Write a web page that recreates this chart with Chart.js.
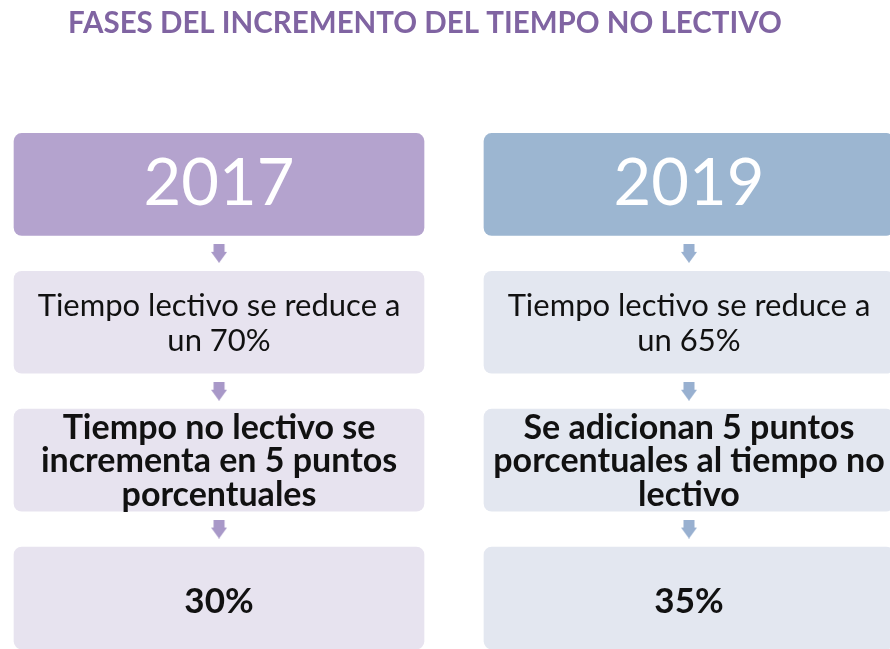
<!DOCTYPE html>
<html>
<head>
<meta charset="utf-8">
<script src="https://cdn.jsdelivr.net/npm/chart.js@4.4.0/dist/chart.umd.min.js"></script>
<style>
  html, body { margin: 0; padding: 0; background: #fff; }
  #wrap { width: 890px; height: 649px; }
</style>
</head>
<body>
<div id="wrap"><canvas id="myChart"></canvas></div>
<script>
// two phases, one column each
var years = ["2017", "2019"];
var lectivo = [70, 65];
var noLectivo = [30, 35];

// stage rows from top to bottom
var stageRows = [0, 1, 2, 3];
var stageText = [
    [["2017"], ["2019"]],
    [["Tiempo lectivo se reduce a", "un " + lectivo[0] + "%"], ["Tiempo lectivo se reduce a", "un " + lectivo[1] + "%"]],
    [["Tiempo no lectivo se", "incrementa en 5 puntos", "porcentuales"], ["Se adicionan 5 puntos", "porcentuales al tiempo no", "lectivo"]],
    [[noLectivo[0] + "%"], [noLectivo[1] + "%"]]
];
var arrowRows = [0.5, 1.5, 2.5];

var half = 0.37;
var headerColors = ["#b4a3ce", "#9cb6d1"];
var bodyColors = ["#e7e3ef", "#e3e7f0"];
var arrowColors = ["#a898c8", "#98b0d0"];

function makeArrow(color) {
    var c = document.createElement("canvas");
    c.width = 16;
    c.height = 19;
    var g = c.getContext("2d");
    g.fillStyle = color;
    g.fillRect(2.5, 0, 11, 8);
    g.beginPath();
    g.moveTo(0, 8);
    g.lineTo(16, 8);
    g.lineTo(8, 19);
    g.closePath();
    g.fill();
    return c;
}
var arrowImgs = arrowColors.map(makeArrow);

var datasets = stageRows.map(function (r) {
    return {
        type: "bar",
        label: "fase " + r,
        data: years.map(function (y, i) { return { x: i, y: [r - half, r + half] }; }),
        backgroundColor: r === 0 ? headerColors : bodyColors,
        borderRadius: 8,
        borderSkipped: false,
        barThickness: 410,
        grouped: false,
        clip: false,
        texts: stageText[r]
    };
});

datasets.push({
    type: "scatter",
    label: "flechas",
    data: arrowRows.flatMap(function (y) {
        return years.map(function (yr, i) { return { x: i, y: y }; });
    }),
    pointStyle: function (ctx) { return arrowImgs[ctx.raw ? ctx.raw.x : 0]; },
    pointRadius: 9,
    clip: false
});

var stageFonts = [
    { size: 65, weight: "normal", color: "#ffffff", lh: 65, dy: 0 },
    { size: 31, weight: "normal", color: "#111111", lh: 35, dy: 1 },
    { size: 34, weight: "bold", color: "#111111", lh: 33.5, dy: 1 },
    { size: 35, weight: "bold", color: "#111111", lh: 35, dy: 4 }
];

var boxText = {
    id: "boxText",
    afterDatasetsDraw: function (chart) {
        var ctx = chart.ctx;
        ctx.save();
        ctx.textAlign = "center";
        ctx.textBaseline = "middle";
        stageRows.forEach(function (r) {
            var meta = chart.getDatasetMeta(r);
            var f = stageFonts[r];
            ctx.font = f.weight + " " + f.size + "px Lato";
            ctx.fillStyle = f.color;
            meta.data.forEach(function (bar, i) {
                var lines = chart.data.datasets[r].texts[i];
                var cy = (bar.y + bar.base) / 2 + f.dy;
                var y0 = cy - (lines.length - 1) * f.lh / 2;
                lines.forEach(function (t, k) {
                    ctx.fillText(t, bar.x, y0 + k * f.lh);
                });
            });
        });
        ctx.restore();
    }
};

new Chart("myChart", {
    type: "bar",
    data: { datasets: datasets },
    options: {
        responsive: true,
        maintainAspectRatio: false,
        animation: false,
        layout: { autoPadding: false, padding: { left: 0, right: 40, top: 0, bottom: 0 } },
        scales: {
            x: { type: "linear", offset: false, min: -0.466, max: 1.3426, display: false },
            y: { type: "linear", reverse: true, min: -0.37, max: 3.37, display: false }
        },
        plugins: {
            legend: { display: false },
            tooltip: { enabled: false },
            title: {
                display: true,
                text: "FASES DEL INCREMENTO DEL TIEMPO NO LECTIVO",
                color: "#8064a2",
                font: { family: "Lato", size: 29.5, weight: "bold", lineHeight: 1.2 },
                padding: { top: 6, bottom: 92 }
            }
        }
    },
    plugins: [boxText]
});
</script>
</body>
</html>
